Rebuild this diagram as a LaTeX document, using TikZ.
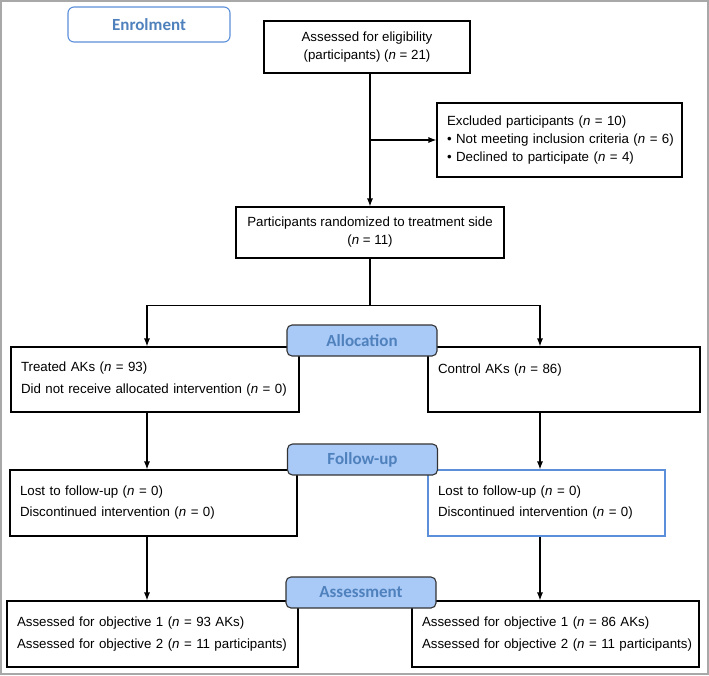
\documentclass[tikz,border=0pt]{standalone}
\usepackage{fontspec}
\usetikzlibrary{arrows.meta}
\setmainfont{Liberation Sans}
\newfontfamily\stagefont{Carlito}
\definecolor{stageblue}{HTML}{4F81BD}
\definecolor{stagefill}{HTML}{A9C9F7}
\definecolor{framegray}{HTML}{A8A8A8}
\definecolor{edgeblue}{HTML}{5B8FD9}
\begin{document}
\begin{tikzpicture}[x=1pt,y=-1pt,>={Latex[length=8pt,width=6pt]},
  cbox/.style={draw,line width=1.1pt,align=center,font=\fontsize{13.3}{18}\selectfont},
  lbox/.style={draw,line width=1.1pt,align=left,inner xsep=10pt,font=\fontsize{13.3}{22}\selectfont},
  stage/.style={draw=black!80,line width=1.1pt,rounded corners=5pt,fill=stagefill,text=stageblue,
    minimum width=150,minimum height=31,font=\stagefont\bfseries\fontsize{17}{20}\selectfont},
  link/.style={line width=1.1pt}]
\useasboundingbox (0,0) rectangle (709,675);
\draw[framegray,line width=2pt] (1,1) rectangle (708,674);
% enrolment
\node[stage,draw=edgeblue,fill=white,minimum width=162,minimum height=35,rounded corners=6pt] (enrol) at (149,24.5) {Enrolment};
\node[cbox,minimum width=206,minimum height=52] (elig) at (367,47) {Assessed for eligibility\\(participants) (\textit{n} = 21)};
\node[lbox,text width=225,minimum height=74,font=\fontsize{13.3}{18}\selectfont] (excl) at (559.5,140) {\mbox{Excluded participants (\textit{n} = 10)}\\%
  \mbox{• Not meeting inclusion criteria (\textit{n} = 6)}\\\mbox{• Declined to participate (\textit{n} = 4)}};
\node[cbox,minimum width=268,minimum height=51] (rand) at (370,232.5) {Participants randomized to treatment side\\(\textit{n} = 11)};
% allocation
\node[lbox,text width=268,minimum height=65] (treat) at (155,379.5) {\mbox{Treated AKs (\textit{n} = 93)}\\\mbox{Did not receive allocated intervention (\textit{n} = 0)}};
\node[lbox,text width=252,minimum height=65] (ctrl) at (564,379.5) {\mbox{Control AKs (\textit{n} = 86)}\\\mbox{}};
% follow-up
\node[lbox,text width=267,minimum height=66,font=\fontsize{13.3}{21}\selectfont] (lostL) at (153.5,503) {\mbox{Lost to follow-up (\textit{n} = 0)}\\\mbox{Discontinued intervention (\textit{n} = 0)}};
\node[lbox,draw=edgeblue,text width=217,minimum height=66,font=\fontsize{13.3}{21}\selectfont] (lostR) at (546.5,503) {\mbox{Lost to follow-up (\textit{n} = 0)}\\\mbox{Discontinued intervention (\textit{n} = 0)}};
% assessment
\node[lbox,text width=271,minimum height=66] (assL) at (152.5,634) {\mbox{Assessed for objective 1 (\textit{n} = 93 AKs)}\\\mbox{Assessed for objective 2 (\textit{n} = 11 participants)}};
\node[lbox,text width=267,minimum height=66] (assR) at (555.5,634) {\mbox{Assessed for objective 1 (\textit{n} = 86 AKs)}\\\mbox{Assessed for objective 2 (\textit{n} = 11 participants)}};
% arrows
\coordinate (mx) at (370,0);
\coordinate (lx) at (147,0);
\coordinate (rx) at (540,0);
\draw[link,->] (mx |- elig.south) -- (rand.north);
\draw[link,->] (mx |- excl.west) -- (excl.west);
\draw[link] (rand.south) -- ++(0,47) coordinate (split);
\draw[link,->] (split) -| (lx |- treat.north);
\draw[link,->] (split) -| (rx |- ctrl.north);
\draw[link,->] (lx |- treat.south) -- (lx |- lostL.north);
\draw[link,->] (rx |- ctrl.south) -- (rx |- lostR.north);
\draw[link,->] (lx |- lostL.south) -- (lx |- assL.north);
\draw[link,->] (rx |- lostR.south) -- (rx |- assR.north);
% stage labels
\node[stage] (alloc) at (362,340.5) {Allocation};
\node[stage] (follow) at (362.5,459.5) {Follow-up};
\node[stage] (assess) at (361,592.5) {Assessment};
\end{tikzpicture}
\end{document}
